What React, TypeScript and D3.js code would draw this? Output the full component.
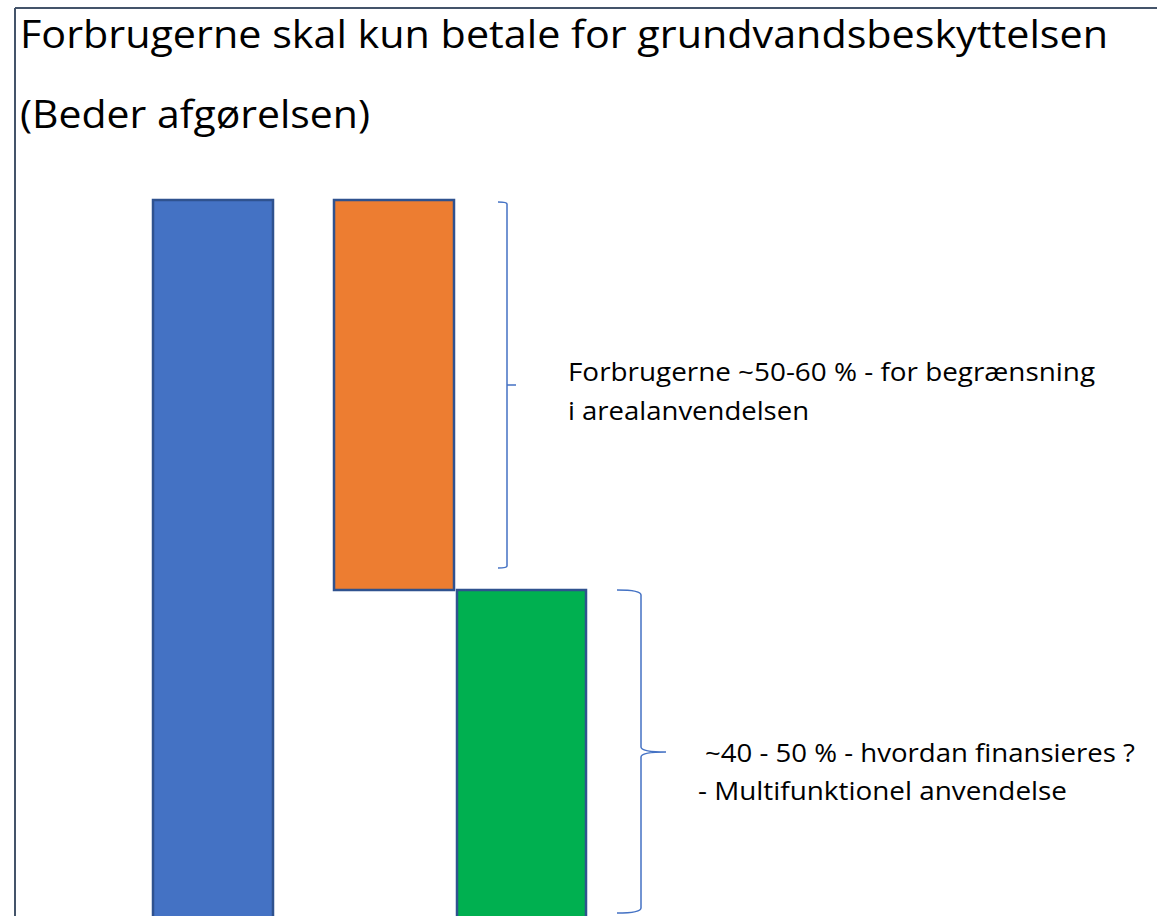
import React, { useEffect } from "react";
import * as d3 from "d3";

const categories = ["Total", "Forbrugerne", "Øvrige"];
const barStarts = [0, 50, 0];
const barEnds = [100, 100, 50];
const barColors = ["#4472C4", "#ED7D31", "#00B050"];
const titleLines = ["Forbrugerne skal kun betale for grundvandsbeskyttelsen", "(Beder afgørelsen)"];
const note1 = ["Forbrugerne ~50-60 % - for begrænsning", "i arealanvendelsen"];
const note2 = ["~40 - 50 % - hvordan finansieres ?", "- Multifunktionel anvendelse"];

const W = 1157;
const H = 916;

export default function App() {
  useEffect(() => {
    document.body.style.margin = "0";
  }, []);

  const y = d3.scaleLinear().domain([0, 100]).range([980, 200]);
  const xLeft = d3.scaleOrdinal<string, number>().domain(categories).range([153, 334, 457]);
  const widths = [120, 120, 129];

  const font = "'Open Sans', 'Noto Sans', sans-serif";
  const bracketColor = "#4472C4";

  const b1Top = y(100) + 2;
  const b1Bot = y(50) - 22;
  const b1Mid = (b1Top + b1Bot) / 2;
  const b1x = 507;
  const b1Path = `M ${b1x - 9} ${b1Top} Q ${b1x} ${b1Top} ${b1x} ${b1Top + 2} L ${b1x} ${b1Bot - 2} Q ${b1x} ${b1Bot} ${b1x - 9} ${b1Bot} M ${b1x} ${b1Mid} L ${b1x + 9} ${b1Mid}`;

  const b2Top = y(50);
  const b2Bot = 913;
  const b2Mid = 752;
  const b2x = 641;
  const b2Path = `M ${b2x - 24} ${b2Top} Q ${b2x} ${b2Top} ${b2x} ${b2Top + 5} L ${b2x} ${b2Mid - 5} Q ${b2x} ${b2Mid} ${b2x + 25} ${b2Mid} Q ${b2x} ${b2Mid} ${b2x} ${b2Mid + 5} L ${b2x} ${b2Bot - 5} Q ${b2x} ${b2Bot} ${b2x - 24} ${b2Bot}`;

  return (
    <svg width={W} height={H} style={{ display: "block", background: "#fff" }}>
      <line x1={15} y1={8} x2={W} y2={8} stroke="#44546A" strokeWidth={2} />
      <line x1={15} y1={8} x2={15} y2={H} stroke="#44546A" strokeWidth={2} />
      <text x={20} y={48} fontFamily={font} fontSize={39} fill="#000" textLength={1088} lengthAdjust="spacingAndGlyphs">
        {titleLines[0]}
      </text>
      <text x={20} y={128} fontFamily={font} fontSize={39} fill="#000" textLength={350} lengthAdjust="spacingAndGlyphs">
        {titleLines[1]}
      </text>
      {categories.map((c, i) => (
        <rect
          key={c}
          x={xLeft(c)}
          y={y(barEnds[i])}
          width={widths[i]}
          height={y(barStarts[i]) - y(barEnds[i])}
          fill={barColors[i]}
          stroke="#2F528F"
          strokeWidth={2.5}
        />
      ))}
      <path d={b1Path} fill="none" stroke={bracketColor} strokeWidth={1.5} />
      <path d={b2Path} fill="none" stroke={bracketColor} strokeWidth={1.5} />
      <text x={568} y={381} fontFamily={font} fontSize={26} fill="#000" textLength={527} lengthAdjust="spacingAndGlyphs">
        {note1[0]}
      </text>
      <text x={568} y={420} fontFamily={font} fontSize={26} fill="#000" textLength={241} lengthAdjust="spacingAndGlyphs">
        {note1[1]}
      </text>
      <text x={705} y={762} fontFamily={font} fontSize={26} fill="#000" textLength={430} lengthAdjust="spacingAndGlyphs">
        {note2[0]}
      </text>
      <text x={698} y={800} fontFamily={font} fontSize={26} fill="#000" textLength={369} lengthAdjust="spacingAndGlyphs">
        {note2[1]}
      </text>
    </svg>
  );
}
